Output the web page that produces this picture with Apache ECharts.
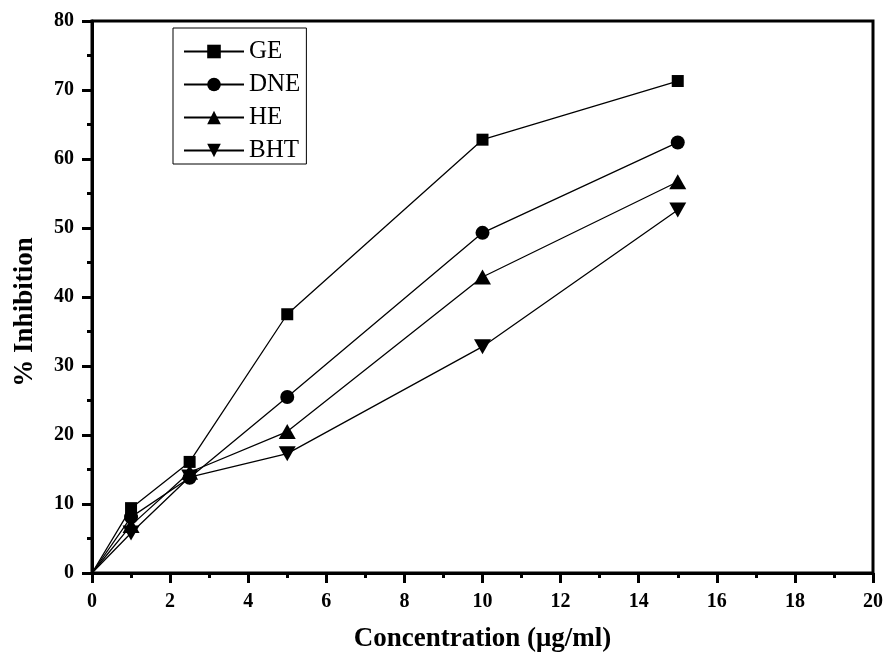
<!DOCTYPE html>
<html><head><meta charset="utf-8">
<script src="https://cdn.jsdelivr.net/npm/echarts@6/dist/echarts.min.js"></script>
<style>html,body{margin:0;padding:0;background:#fff}#c{width:887px;height:656px}</style>
</head><body><div id="c"></div>
<script>
const concentrations = [0, 1, 2.5, 5, 10, 15];
const seriesNames = ['GE', 'DNE', 'HE', 'BHT'];
const geValues  = [0, 9.4, 16.1, 37.5, 62.8, 71.3];
const dneValues = [0, 8.1, 13.8, 25.5, 49.3, 62.4];
const heValues  = [0, 6.9, 14.6, 20.5, 42.9, 56.7];
const bhtValues = [0, 5.8, 13.9, 17.3, 32.8, 52.6];
const xTicks = [0, 2, 4, 6, 8, 10, 12, 14, 16, 18, 20];
const yTicks = [0, 10, 20, 30, 40, 50, 60, 70, 80];

const font = '"Liberation Serif", "Times New Roman", serif';
const pair = v => concentrations.map((x, i) => i === 0 ? {value: [x, v[i]], symbol: 'none'} : [x, v[i]]);
const mk = (name, vals, symbol, size, rot) => ({
  name, type: 'line', data: pair(vals), symbol, symbolSize: size, symbolRotate: rot || 0,
  lineStyle: {color: '#000', width: 1.3}, itemStyle: {color: '#000'}, animation: false
});
const chart = echarts.init(document.getElementById('c'));
chart.setOption({
  backgroundColor: '#fff',
  grid: {left: 92, right: 14, top: 21, bottom: 83, show: true, borderColor: '#000', borderWidth: 3,
         backgroundColor: 'transparent', containLabel: false, outerBoundsMode: 'none'},
  legend: {
    data: seriesNames, orient: 'vertical', left: 173, top: 28, itemWidth: 60, itemHeight: 17, itemGap: 8,
    borderColor: '#000', borderWidth: 1, padding: [11, 6, 1, 10],
    textStyle: {fontFamily: font, fontSize: 25, color: '#000', lineHeight: 25}
  },
  xAxis: {
    type: 'value', min: xTicks[0], max: xTicks[xTicks.length - 1], interval: 2,
    name: 'Concentration (μg/ml)', nameLocation: 'middle', nameGap: 53,
    nameTextStyle: {fontFamily: font, fontSize: 27, fontWeight: 'bold', color: '#000'},
    axisLine: {lineStyle: {color: '#000', width: 3}},
    axisTick: {show: true, length: 10, inside: false, lineStyle: {width: 3, color: '#000'}},
    minorTick: {show: true, splitNumber: 2, length: 5, lineStyle: {width: 3, color: '#000'}},
    splitLine: {show: false},
    axisLabel: {fontFamily: font, fontSize: 20, fontWeight: 'bold', color: '#000', margin: 19}
  },
  yAxis: {
    type: 'value', min: yTicks[0], max: yTicks[yTicks.length - 1], interval: 10,
    name: '% Inhibition', nameLocation: 'middle', nameGap: 53, nameRotate: 90,
    nameTextStyle: {fontFamily: font, fontSize: 27, fontWeight: 'bold', color: '#000', padding: [0, 30, 0, 0]},
    axisLine: {lineStyle: {color: '#000', width: 3}},
    axisTick: {show: true, length: 10, lineStyle: {width: 3, color: '#000'}},
    minorTick: {show: true, splitNumber: 2, length: 5, lineStyle: {width: 3, color: '#000'}},
    splitLine: {show: false},
    axisLabel: {fontFamily: font, fontSize: 20, fontWeight: 'bold', color: '#000', margin: 18}
  },
  series: [
    mk('GE', geValues, 'rect', 12),
    mk('DNE', dneValues, 'circle', 14),
    mk('HE', heValues, 'triangle', [17, 15]),
    mk('BHT', bhtValues, 'triangle', [17, 15], 180)
  ]
});
</script></body></html>
